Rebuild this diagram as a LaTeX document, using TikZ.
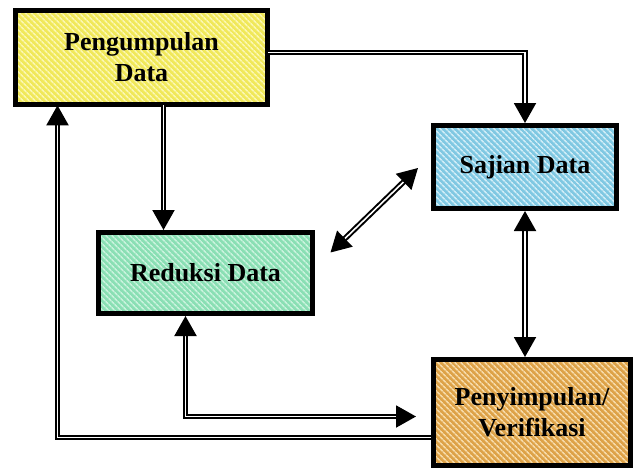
\documentclass[tikz,border=0pt]{standalone}
\usepackage{fontspec}
\setmainfont{Liberation Serif}
\usetikzlibrary{arrows.meta,positioning,patterns.meta}
\definecolor{yelBase}{HTML}{F0E85A}
\definecolor{yelLine}{HTML}{FBF7B0}
\definecolor{grnBase}{HTML}{8ADFB4}
\definecolor{grnLine}{HTML}{C8F2DC}
\definecolor{bluBase}{HTML}{80C8E2}
\definecolor{bluLine}{HTML}{CFECF6}
\definecolor{orgBase}{HTML}{DDA248}
\definecolor{orgLine}{HTML}{F6DAA8}

\begin{document}
\begin{tikzpicture}[on grid,
    box/.style={draw, line width=5pt, align=center,
      font=\bfseries\fontsize{26}{31}\selectfont},
    hatch/.style 2 args={preaction={fill=#1},
      pattern={Lines[angle=-45,distance=4pt,line width=1.7pt]}, pattern color=#2},
    conn/.style={double, line width=2pt, double distance=1.6pt,
      -{Triangle[length=20pt,width=22pt]}},
    conn2/.style={conn, {Triangle[length=20pt,width=22pt]}-{Triangle[length=20pt,width=22pt]}}]
   \useasboundingbox (-141.5pt,57.5pt) rectangle (494.5pt,-416.5pt);
   \node[box, hatch={yelBase}{yelLine}, minimum width=252pt, minimum height=94pt] (PD) {Pengumpulan\\Data};
   \node[box, hatch={grnBase}{grnLine}, minimum width=214pt, minimum height=81pt] (RD) [below right=215.5pt and 64pt of PD] {Reduksi Data};
   \node[box, hatch={bluBase}{bluLine}, minimum width=183pt, minimum height=83pt] (SD) [below right=109.5pt and 383.5pt of PD] {Sajian Data};
   \node[box, hatch={orgBase}{orgLine}, minimum width=197pt, minimum height=106pt] (PV) [below right=245.5pt and 7pt of SD] {Penyimpulan/\\Verifikasi};

   \coordinate (PDbot) at ([xshift=22pt]PD.south);
   \coordinate (PDup) at ([xshift=-84pt]PD.south);
   \coordinate (RDbot) at ([xshift=-20pt]RD.south);
   \coordinate (PVin) at ([shift={(-15pt,-4pt)}]PV.west);
   \coordinate (RDne) at ([shift={(15.5pt,-22.5pt)}]RD.north east);
   \coordinate (SDsw) at ([shift={(-13pt,-1pt)}]SD.west);

   \draw[conn] ([yshift=5pt]PD.east) -| (SD);
   \draw[conn] (PDbot) -- (PDbot |- RD.north);
   \draw[conn] ([yshift=-25pt]PV.west) -| (PDup);
   \draw[conn2] (RDbot) |- (PVin);
   \draw[conn2] (SD.south) -- (SD.south |- PV.north);
   \draw[conn2] (RDne) -- (SDsw);
\end{tikzpicture}
\end{document}
